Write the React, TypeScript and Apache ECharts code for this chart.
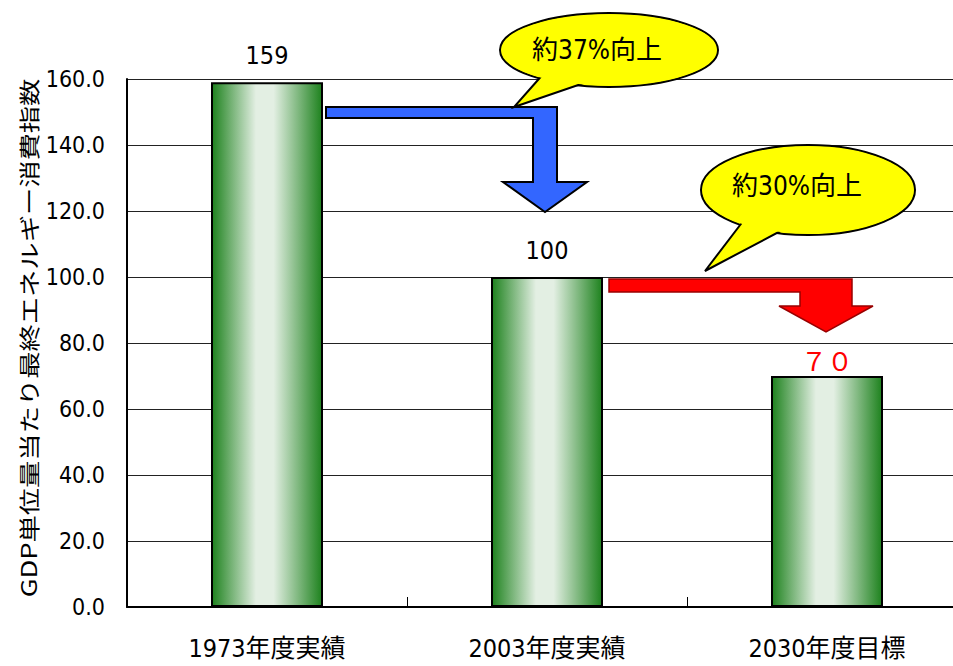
import React, { useEffect, useRef } from "react";
import * as echarts from "echarts";

// Final energy consumption per unit of GDP (index, 2003 = 100)
const categories = ["1973年度実績", "2003年度実績", "2030年度目標"];
const values = [159, 100, 70];
const yMin = 0;
const yMax = 160;
const yInterval = 20;
const yAxisTitle = "GDP単位量当たり最終エネルギー消費指数";
const improvements = ["約37%向上", "約30%向上"];

const NARROW = "'DejaVu Sans Condensed', 'Noto Sans CJK JP', sans-serif";
const CJK = "'Noto Sans CJK JP', sans-serif";

const toFullWidth = (n: number) =>
  String(n).replace(/[0-9]/g, (d) => String.fromCharCode(d.charCodeAt(0) + 0xfee0));

const barFill = new echarts.graphic.LinearGradient(0, 0, 1, 0, [
  { offset: 0, color: "#1e821e" },
  { offset: 0.4, color: "#e3efe3" },
  { offset: 0.56, color: "#e3efe3" },
  { offset: 1, color: "#1e821e" },
]);

function balloon(cx: number, cy: number, rx: number, ry: number, tail: number[][], text: string, tx: number, ty: number) {
  return {
    type: "group",
    children: [
      { type: "ellipse", shape: { cx, cy, rx, ry }, style: { fill: "#ffff00", stroke: "#000", lineWidth: 2 }, z: 10 },
      { type: "polygon", shape: { points: tail }, style: { fill: "#ffff00", stroke: "#000", lineWidth: 2 }, z: 11 },
      { type: "ellipse", shape: { cx, cy, rx: rx - 1.5, ry: ry - 1.5 }, style: { fill: "#ffff00" }, z: 12 },
      {
        type: "text",
        x: tx,
        y: ty,
        z: 13,
        style: { text, fill: "#000", font: `26px ${NARROW}`, align: "center", verticalAlign: "middle" },
      },
    ],
  };
}

export default function App() {
  const ref = useRef<HTMLDivElement>(null);

  useEffect(() => {
    if (!ref.current) return;
    const chart = echarts.init(ref.current, null, { renderer: "svg" });

    const data = values.map((v, i) => {
      const last = i === values.length - 1;
      return {
        value: v,
        label: last
          ? { formatter: toFullWidth(v), color: "#ff0000", fontSize: 26, fontFamily: CJK, distance: 4 }
          : { distance: 14 },
      };
    });

    chart.setOption({
      animation: false,
      backgroundColor: "#ffffff",
      grid: {
        left: 127,
        top: 79,
        width: 840,
        height: 528,
        containLabel: false,
        outerBoundsMode: "none",
      },
      xAxis: {
        type: "category",
        data: categories,
        axisLine: { lineStyle: { color: "#000", width: 2 } },
        axisTick: { show: true, inside: true, length: 10, lineStyle: { color: "#000", width: 1 } },
        axisLabel: { color: "#000", fontSize: 25, fontFamily: NARROW, margin: 29 },
        splitLine: { show: false },
      },
      yAxis: {
        type: "value",
        min: yMin,
        max: yMax,
        interval: yInterval,
        axisLine: { show: true, lineStyle: { color: "#000", width: 2 } },
        axisTick: { show: false },
        axisLabel: {
          color: "#000",
          fontSize: 23,
          fontFamily: NARROW,
          margin: 22,
          formatter: (v: number) => v.toFixed(1),
        },
        splitLine: { show: true, lineStyle: { color: "#222", width: 1 } },
      },
      series: [
        {
          type: "bar",
          data,
          barWidth: "40%",
          itemStyle: { color: barFill, borderColor: "#000", borderWidth: 2 },
          label: {
            show: true,
            position: "top",
            color: "#000",
            fontSize: 25,
            fontFamily: NARROW,
          },
        },
      ],
      graphic: [
        {
          type: "text",
          x: 28,
          y: 338,
          rotation: Math.PI / 2,
          scaleX: 1.3,
          style: {
            text: yAxisTitle,
            fill: "#000",
            font: `21px ${CJK}`,
            align: "center",
            verticalAlign: "middle",
          },
        },
        // blue step-down arrow from 1973 to 2003
        {
          type: "polygon",
          z: 5,
          shape: {
            points: [
              [326, 107], [557, 107], [557, 182], [587, 182], [545, 212],
              [503, 182], [533, 182], [533, 118], [326, 118],
            ],
          },
          style: { fill: "#3366ff", stroke: "#000", lineWidth: 2 },
        },
        // red step-down arrow from 2003 to 2030
        {
          type: "polygon",
          z: 5,
          shape: {
            points: [
              [609, 279], [852, 279], [852, 306], [873, 306], [826, 332],
              [779, 306], [800, 306], [800, 292], [609, 292],
            ],
          },
          style: { fill: "#ff0000", stroke: "#990000", lineWidth: 1.5 },
        },
        balloon(609, 50, 109, 37, [[545, 72], [514, 107], [590, 81]], improvements[0], 597, 50),
        balloon(808, 190, 107, 45, [[747, 216], [705, 271], [790, 226]], improvements[1], 797, 186),
      ],
    });

    return () => chart.dispose();
  }, []);

  return (
    <div
      ref={ref}
      style={{ position: "fixed", left: 0, top: 0, width: 953, height: 666, background: "#fff" }}
    />
  );
}
